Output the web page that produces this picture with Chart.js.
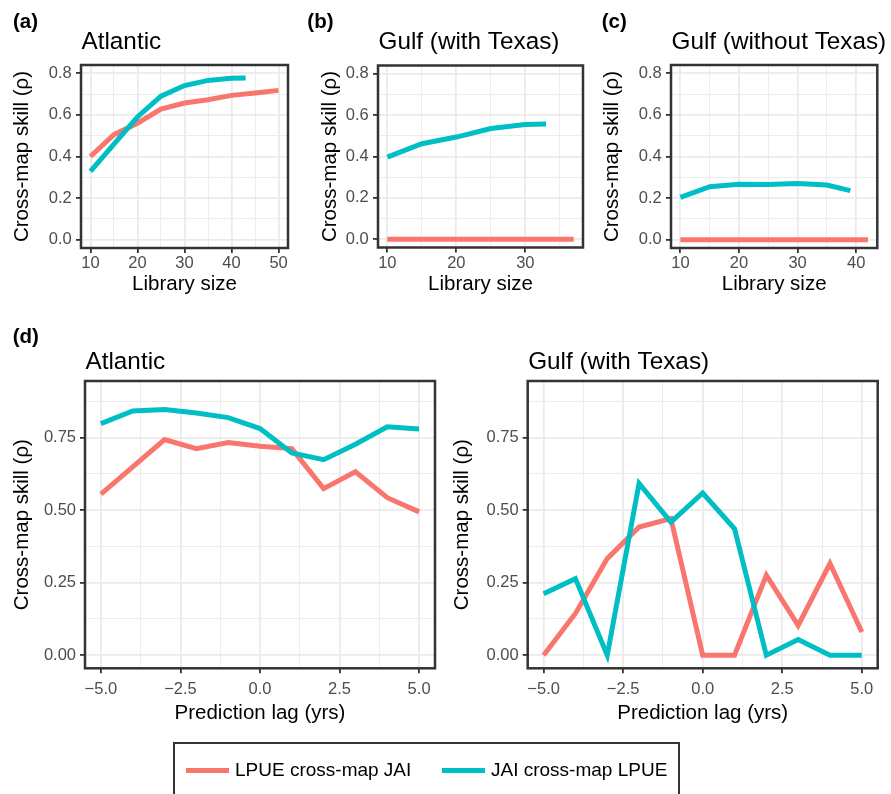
<!DOCTYPE html>
<html>
<head>
<meta charset="utf-8">
<script src="https://cdn.jsdelivr.net/npm/chart.js@4"></script>
<style>
  body { margin: 0; background: #fff; }
  #fig { position: relative; width: 891px; height: 794px; overflow: hidden;
         font-family: "Liberation Sans", Arial, Helvetica, sans-serif; }
  #fig canvas { position: absolute; left: 0; top: 0; }
  .legend { position: absolute; left: 173px; top: 742px; width: 507px; height: 70px;
            border: 2px solid #333; box-sizing: border-box; }
  .key { position: absolute; top: 24px; width: 43px; height: 5px; }
  .lab { position: absolute; top: 16px; font-size: 19px; line-height: 19px; color: #000; white-space: nowrap; }
</style>
</head>
<body>
<div id="fig">
  <canvas id="pa" width="891" height="794"></canvas>
  <canvas id="pb" width="891" height="794"></canvas>
  <canvas id="pc" width="891" height="794"></canvas>
  <canvas id="pd1" width="891" height="794"></canvas>
  <canvas id="pd2" width="891" height="794"></canvas>
  <div class="legend">
    <div class="key" style="left:11px;background:#F8766D"></div>
    <div class="lab" style="left:60px">LPUE cross-map JAI</div>
    <div class="key" style="left:267px;background:#00BFC4"></div>
    <div class="lab" style="left:316px">JAI cross-map LPUE</div>
  </div>
</div>
<script>
// (a) Atlantic, cross-map skill vs library size
const libAtlLpue = [10, 15, 20, 25, 30, 35, 40, 45, 50];
const atlLpue    = [0.40, 0.505, 0.56, 0.628, 0.657, 0.673, 0.694, 0.705, 0.718];
const libAtlJai  = [10, 15, 20, 25, 30, 35, 40, 43];
const atlJai     = [0.328, 0.46, 0.59, 0.69, 0.741, 0.766, 0.776, 0.777];

// (b) Gulf with Texas
const libGulfLpue = [10, 15, 20, 25, 30, 35, 37];
const gulfLpue    = [0, 0, 0, 0, 0, 0, 0];
const libGulfJai  = [10, 15, 20, 25, 30, 33];
const gulfJai     = [0.397, 0.462, 0.494, 0.535, 0.555, 0.557];

// (c) Gulf without Texas
const libNoTxLpue = [10, 15, 20, 25, 30, 35, 40, 42];
const noTxLpue    = [0, 0, 0, 0, 0, 0, 0, 0];
const libNoTxJai  = [10, 15, 20, 25, 30, 35, 39];
const noTxJai     = [0.203, 0.255, 0.267, 0.265, 0.27, 0.263, 0.236];

// (d) cross-map skill vs prediction lag
const lags        = [-5, -4, -3, -2, -1, 0, 1, 2, 3, 4, 5];
const atlLagLpue  = [0.555, 0.649, 0.743, 0.712, 0.733, 0.72, 0.712, 0.574, 0.632, 0.543, 0.494];
const atlLagJai   = [0.798, 0.842, 0.847, 0.835, 0.819, 0.781, 0.697, 0.674, 0.727, 0.787, 0.78];
const gulfLagLpue = [0, 0.144, 0.333, 0.442, 0.471, 0, 0, 0.276, 0.103, 0.316, 0.08];
const gulfLagJai  = [0.212, 0.264, 0, 0.592, 0.459, 0.559, 0.436, 0, 0.054, 0, 0];

// tick labels
const yTicksLib = [0, 0.2, 0.4, 0.6, 0.8];
const xTicksA   = [10, 20, 30, 40, 50];
const xTicksB   = [10, 20, 30];
const xTicksC   = [10, 20, 30, 40];
const yTicksLag = [0, 0.25, 0.5, 0.75];
const xTicksLag = [-5, -2.5, 0, 2.5, 5];

const FONT = '"Liberation Sans", Arial, Helvetica, sans-serif';
const RED = '#F8766D';
const CYAN = '#00BFC4';

function isMajor(v, majors) {
    return majors.some(m => Math.abs(m - v) < 1e-9);
}

// major ticks plus the minor ones halfway between them
function withMinor(majors, min, max) {
    const step = majors[1] - majors[0];
    const all = majors.slice();
    for (let i = -1; i < majors.length; i++) {
        const m = majors[0] + (i + 0.5) * step;
        if (m > min && m < max) all.push(m);
    }
    return all.sort((a, b) => a - b);
}

function minus(s) {
    return s.replace('-', '\u2212');
}

function makeAxis(o) {
    return {
        type: 'linear',
        min: o.min,
        max: o.max,
        afterBuildTicks: s => {
            s.ticks = withMinor(o.majors, o.min, o.max).map(v => ({ value: v }));
        },
        afterFit: s => {
            if (o.horizontal) s.height = o.size; else s.width = o.size;
            s.paddingLeft = 0; s.paddingRight = 0; s.paddingTop = 0; s.paddingBottom = 0;
        },
        border: { display: false },
        grid: {
            color: '#EBEBEB',
            lineWidth: c => (c.tick && !isMajor(c.tick.value, o.majors)) ? 0.9 : 1.8,
            tickColor: c => (c.tick && !isMajor(c.tick.value, o.majors)) ? 'rgba(0,0,0,0)' : '#333333',
            tickWidth: 1.8,
            tickLength: 5,
            drawTicks: true
        },
        ticks: {
            autoSkip: false,
            maxRotation: 0,
            padding: o.pad,
            color: '#4D4D4D',
            font: { family: FONT, size: 16.5 },
            callback: v => isMajor(v, o.majors) ? minus(o.fmt(v)) : ''
        },
        title: {
            display: true,
            text: o.title,
            color: '#000',
            padding: 0,
            font: { family: FONT, size: 20.5 }
        }
    };
}

// panel border, panel title and tag letter
const panelDecor = {
    id: 'panelDecor',
    afterDatasetsDraw(chart, args, opts) {
        const ctx = chart.ctx;
        const a = chart.chartArea;
        ctx.save();
        ctx.strokeStyle = '#333333';
        ctx.lineWidth = 2.5;
        ctx.strokeRect(a.left, a.top, a.right - a.left, a.bottom - a.top);
        ctx.fillStyle = '#000';
        ctx.textBaseline = 'alphabetic';
        ctx.textAlign = 'left';
        ctx.font = '24.3px ' + FONT;
        ctx.fillText(opts.title, a.left + 0.5, opts.titleY);
        if (opts.tag) {
            ctx.font = 'bold 20.5px ' + FONT;
            ctx.fillText(opts.tag, opts.tagX, opts.tagY);
        }
        ctx.restore();
    }
};

function series(xs, ys, color, order) {
    return {
        data: xs.map((x, i) => ({ x: x, y: ys[i] })),
        borderColor: color,
        borderWidth: 5,
        borderCapStyle: 'butt',
        pointRadius: 0,
        tension: 0,
        fill: false,
        order: order
    };
}

function makePanel(id, box, xAxis, yAxis, datasets, decor) {
    const ctx = document.getElementById(id).getContext('2d');
    xAxis.horizontal = true;
    xAxis.size = box.xh;
    yAxis.size = box.yw;
    new Chart(ctx, {
        type: 'line',
        data: { datasets: datasets },
        options: {
            responsive: false,
            animation: false,
            devicePixelRatio: 1,
            events: [],
            layout: {
                padding: {
                    left: box.l - box.yw,
                    top: box.t,
                    right: 891 - box.r,
                    bottom: 794 - box.b - box.xh
                }
            },
            scales: {
                x: makeAxis(xAxis),
                y: makeAxis(yAxis)
            },
            plugins: {
                legend: { display: false },
                tooltip: { enabled: false },
                panelDecor: decor
            }
        },
        plugins: [panelDecor]
    });
}

const fmt0 = v => v.toFixed(0);
const fmt1 = v => v.toFixed(1);
const fmt2 = v => v.toFixed(2);
const yLib = () => ({ min: -0.04, max: 0.84, majors: yTicksLib, fmt: fmt1, pad: 4.3, title: 'Cross-map skill (\u03c1)' });
const yLag = () => ({ min: -0.045, max: 0.945, majors: yTicksLag, fmt: fmt2, pad: 4, title: 'Cross-map skill (\u03c1)' });

makePanel('pa',
    { l: 81, t: 65, r: 288, b: 248, yw: 70.8, xh: 48.8 },
    { min: 8, max: 52, majors: xTicksA, fmt: fmt0, pad: 1, title: 'Library size' },
    yLib(),
    [series(libAtlLpue, atlLpue, RED, 1), series(libAtlJai, atlJai, CYAN, 0)],
    { title: 'Atlantic', titleY: 49.3, tag: '(a)', tagX: 13, tagY: 28.3 });

makePanel('pb',
    { l: 378, t: 65.5, r: 583, b: 247.5, yw: 60.3, xh: 49.3 },
    { min: 8.65, max: 38.35, majors: xTicksB, fmt: fmt0, pad: 1, title: 'Library size' },
    yLib(),
    [series(libGulfLpue, gulfLpue, RED, 1), series(libGulfJai, gulfJai, CYAN, 0)],
    { title: 'Gulf (with Texas)', titleY: 49.3, tag: '(b)', tagX: 307.3, tagY: 28.3 });

makePanel('pc',
    { l: 671, t: 65, r: 877.3, b: 248, yw: 71.3, xh: 48.8 },
    { min: 8.4, max: 43.6, majors: xTicksC, fmt: fmt0, pad: 1, title: 'Library size' },
    yLib(),
    [series(libNoTxLpue, noTxLpue, RED, 1), series(libNoTxJai, noTxJai, CYAN, 0)],
    { title: 'Gulf (without Texas)', titleY: 49.3, tag: '(c)', tagX: 601.7, tagY: 28.3 });

makePanel('pd1',
    { l: 85, t: 381, r: 435, b: 668.3, yw: 74.8, xh: 57.7 },
    { min: -5.5, max: 5.5, majors: xTicksLag, fmt: fmt1, pad: 5.8, title: 'Prediction lag (yrs)' },
    yLag(),
    [series(lags, atlLagLpue, RED, 1), series(lags, atlLagJai, CYAN, 0)],
    { title: 'Atlantic', titleY: 369.3, tag: '(d)', tagX: 12.7, tagY: 343.3 });

makePanel('pd2',
    { l: 527.7, t: 381, r: 877.7, b: 668.3, yw: 77.2, xh: 57.7 },
    { min: -5.5, max: 5.5, majors: xTicksLag, fmt: fmt1, pad: 5.8, title: 'Prediction lag (yrs)' },
    yLag(),
    [series(lags, gulfLagLpue, RED, 1), series(lags, gulfLagJai, CYAN, 0)],
    { title: 'Gulf (with Texas)', titleY: 369.3 });
</script>
</body>
</html>
